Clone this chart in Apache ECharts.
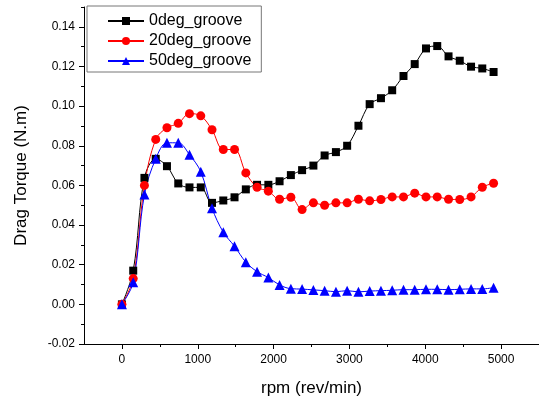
<!DOCTYPE html>
<html>
<head>
<meta charset="utf-8">
<script src="https://cdn.jsdelivr.net/npm/echarts@6/dist/echarts.min.js"></script>
<style>
html,body{margin:0;padding:0;background:#fff;}
#chart{width:539px;height:402px;}
</style>
</head>
<body>
<div id="chart"></div>
<script>
const rpm = [0,149,297,446,594,743,891,1040,1188,1337,1485,1634,1782,1931,2079,2228,2376,2525,2673,2822,2970,3119,3267,3416,3564,3713,3861,4010,4158,4307,4455,4604,4752,4901];
const deg0 = [0,0.017,0.0638,0.0734,0.0697,0.061,0.059,0.059,0.0512,0.0524,0.054,0.058,0.0603,0.0603,0.0621,0.0652,0.0677,0.070,0.0751,0.0768,0.080,0.0901,0.101,0.104,0.108,0.1152,0.1212,0.1291,0.1303,0.1251,0.1229,0.1199,0.119,0.1172];
const deg20 = [0,0.013,0.060,0.0832,0.0891,0.0913,0.0962,0.0951,0.0881,0.0781,0.0781,0.0663,0.0591,0.0571,0.053,0.054,0.0478,0.0512,0.050,0.0512,0.0512,0.053,0.0522,0.0529,0.0542,0.0542,0.0561,0.0542,0.0542,0.053,0.0529,0.0542,0.0591,0.0611];
const deg50 = [0,0.0111,0.0554,0.0734,0.0815,0.0815,0.0755,0.0669,0.0485,0.0364,0.0293,0.0213,0.0165,0.0135,0.0098,0.0079,0.0077,0.0073,0.0069,0.0064,0.0069,0.0063,0.0067,0.0069,0.0071,0.0074,0.0074,0.0076,0.0076,0.0074,0.0076,0.0078,0.0078,0.0084];
const seriesNames = ['0deg_groove','20deg_groove','50deg_groove'];
const xTickLabels = [0,1000,2000,3000,4000,5000];
const xMinorTicks = [500,1500,2500,3500,4500];
const yTickLabels = [-0.02,0,0.02,0.04,0.06,0.08,0.10,0.12,0.14];
const yMinorTicks = [-0.01,0.01,0.03,0.05,0.07,0.09,0.11,0.13,0.15];

const FONT = 'Liberation Sans, Arial, sans-serif';
function pairs(ys){ return rpm.map((x,i)=>[x, ys[i]]); }

const chart = echarts.init(document.getElementById('chart'), null, {renderer:'canvas'});
const axisLineStyle = {color:'#000', width:1};
chart.setOption({
  animation:false,
  backgroundColor:'#fff',
  grid:{left:84, top:7, width:458, height:337, containLabel:false},
  legend:{
    left:87, top:6, orient:'vertical',
    data:seriesNames,
    itemWidth:36, itemHeight:10, itemGap:4,
    padding:[7,10,3,20],
    borderColor:'#777', borderWidth:1, borderRadius:0,
    textStyle:{fontFamily:FONT, fontSize:16, color:'#000'}
  },
  xAxis:[{
    type:'value', min:-500, max:5500,
    name:'rpm (rev/min)', nameLocation:'middle', nameGap:36,
    nameTextStyle:{fontFamily:FONT, fontSize:17, color:'#000'},
    axisLine:{show:true, onZero:false, lineStyle:axisLineStyle},
    axisTick:{show:true, length:5, customValues:xTickLabels, lineStyle:axisLineStyle},
    axisLabel:{show:true, customValues:xTickLabels, fontFamily:FONT, fontSize:12, color:'#000', margin:10,
      formatter:v=>String(Math.round(v))},
    splitLine:{show:false}
  },{
    type:'value', min:-500, max:5500, position:'bottom',
    axisLine:{show:false, onZero:false},
    axisTick:{show:true, length:3, customValues:xMinorTicks, lineStyle:axisLineStyle},
    axisLabel:{show:false},
    splitLine:{show:false}
  }],
  yAxis:[{
    type:'value', min:-0.02, max:0.15,
    name:'Drag Torque (N.m)', nameLocation:'middle', nameGap:54,
    nameTextStyle:{fontFamily:FONT, fontSize:17, color:'#000'},
    axisLine:{show:true, onZero:false, lineStyle:axisLineStyle},
    axisTick:{show:true, length:5, customValues:yTickLabels, lineStyle:axisLineStyle},
    axisLabel:{show:true, customValues:yTickLabels, fontFamily:FONT, fontSize:12, color:'#000', margin:9,
      formatter:v=>Number(v).toFixed(2)},
    splitLine:{show:false}
  },{
    type:'value', min:-0.02, max:0.15, position:'left',
    axisLine:{show:false, onZero:false},
    axisTick:{show:true, length:3, customValues:yMinorTicks, lineStyle:axisLineStyle},
    axisLabel:{show:false},
    splitLine:{show:false}
  }],
  series:[
    {name:seriesNames[0], type:'line', data:pairs(deg0), smooth:0.35,
     symbol:'rect', symbolSize:8, color:'#000000',
     lineStyle:{width:1, color:'#000000'}, itemStyle:{color:'#000000'}},
    {name:seriesNames[1], type:'line', data:pairs(deg20), smooth:0.35,
     symbol:'circle', symbolSize:9, color:'#ff0000',
     lineStyle:{width:1, color:'#ff0000'}, itemStyle:{color:'#ff0000'}},
    {name:seriesNames[2], type:'line', data:pairs(deg50), smooth:0.35,
     symbol:'triangle', symbolSize:10, color:'#0000ff',
     lineStyle:{width:1, color:'#0000ff'}, itemStyle:{color:'#0000ff'}}
  ]
});
</script>
</body>
</html>
